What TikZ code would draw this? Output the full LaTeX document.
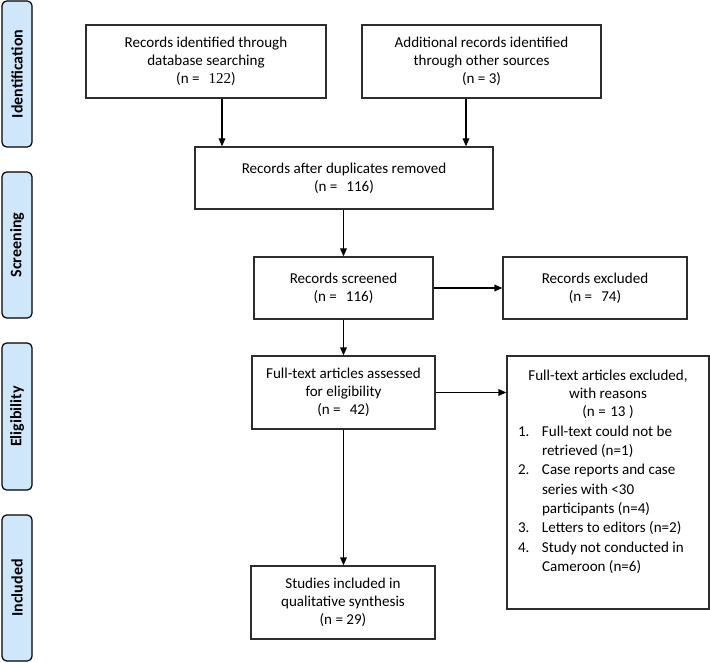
\documentclass[tikz,border=0pt]{standalone}
\usepackage{fontspec}
\setmainfont{Carlito}
\newfontfamily\numserif{Liberation Serif}
\usetikzlibrary{arrows.meta}
\definecolor{lblue}{RGB}{206,231,251}
\definecolor{lineg}{RGB}{45,45,45}
\begin{document}
\begin{tikzpicture}[x=0.75pt,y=-0.75pt,
  box/.style={draw=lineg, line width=0.95pt, inner sep=0pt, align=center,
    font=\fontsize{11.3}{13.7}\selectfont},
  phase/.style={draw=black, line width=0.9pt, fill=lblue, rounded corners=3.5pt,
    inner sep=0pt, minimum width=22.5pt},
  phasetext/.style={rotate=90, inner sep=0pt, font=\fontsize{12}{13}\selectfont\bfseries},
  arr/.style={draw=black, line width=0.95pt, -{Triangle[length=6pt,width=5pt]}}]
\useasboundingbox (0,0) rectangle (710,663);
% phase labels
\node[phase, minimum height=109.5pt] (p1) at (17,74) {};
\node[phasetext] (p1t) at (p1.center) {Identification};
\node[phase, minimum height=109.5pt] (p2) at (17,245) {};
\node[phasetext] (p2t) at (p2.center) {Screening};
\node[phase, minimum height=110.25pt] (p3) at (17,416.5) {};
\node[phasetext] (p3t) at (p3.center) {Eligibility};
\node[phase, minimum height=109.5pt] (p4) at (17,588) {};
\node[phasetext] (p4t) at (p4.center) {Included};
% boxes
\node[box, minimum width=180pt, minimum height=54.75pt] (b1) at (206,61.5)
  {Records identified through\\database searching\\(n =\hspace{0.6em}{\numserif 122})};
\node[box, minimum width=179.25pt, minimum height=54.75pt] (b2) at (481.5,61.5)
  {Additional records identified\\through other sources\\(n = 3)};
\node[box, minimum width=223.5pt, minimum height=46.5pt] (b3) at (344,178)
  {Records after duplicates removed\\(n =\hspace{0.6em}116)};
\node[box, minimum width=134.25pt, minimum height=46.5pt] (b4) at (343.5,288)
  {Records screened\\(n =\hspace{0.6em}116)};
\node[box, minimum width=138pt, minimum height=46.5pt] (e1) at (595,288)
  {Records excluded\\(n =\hspace{0.6em}74)};
\node[box, minimum width=137.25pt, minimum height=54.75pt] (b5) at (343.5,392.5)
  {Full-text articles assessed\\for eligibility\\(n =\hspace{0.6em}42)};
\node[box, minimum width=151.5pt, minimum height=189.75pt] (e2) at (608,482.5) {};
\node[anchor=north, inner sep=0pt, font=\fontsize{11.3}{13.7}\selectfont] (e2t) at ([yshift=-9pt]e2.north)
  {\begin{tabular}{@{}p{18pt}@{}p{117pt}@{}}
   \multicolumn{2}{c}{Full-text articles excluded,}\\
   \multicolumn{2}{c}{with reasons}\\
   \multicolumn{2}{c}{(n =\hspace{0.3em}13 )}\\[0.8pt]
   1. & Full-text could not be\\[0.8pt]
      & retrieved (n=1)\\[0.8pt]
   2. & Case reports and case\\[0.8pt]
      & series with <30\\[0.8pt]
      & participants (n=4)\\[0.8pt]
   3. & Letters to editors (n=2)\\[0.8pt]
   4. & Study not conducted in\\[0.8pt]
      & Cameroon (n=6)
   \end{tabular}};
\node[box, minimum width=138pt, minimum height=54.75pt] (b6) at (343,602.5)
  {Studies included in\\qualitative synthesis\\(n = 29)};
% connectors
\coordinate (c1) at (222,0);
\coordinate (c2) at (466,0);
\draw[arr] (b1.south -| c1) -- (b3.north -| c1);
\draw[arr] (b2.south -| c2) -- (b3.north -| c2);
\draw[arr] (b3.south -| b4.north) -- (b4.north);
\draw[arr] (b4.south) -- (b5.north -| b4.south);
\draw[arr] (b5.south -| b4.south) -- (b6.north -| b4.south);
\draw[arr] (b4.east) -- (e1.west);
\draw[arr] (b5.east) -- (e2.west |- b5.east);
\end{tikzpicture}
\end{document}
